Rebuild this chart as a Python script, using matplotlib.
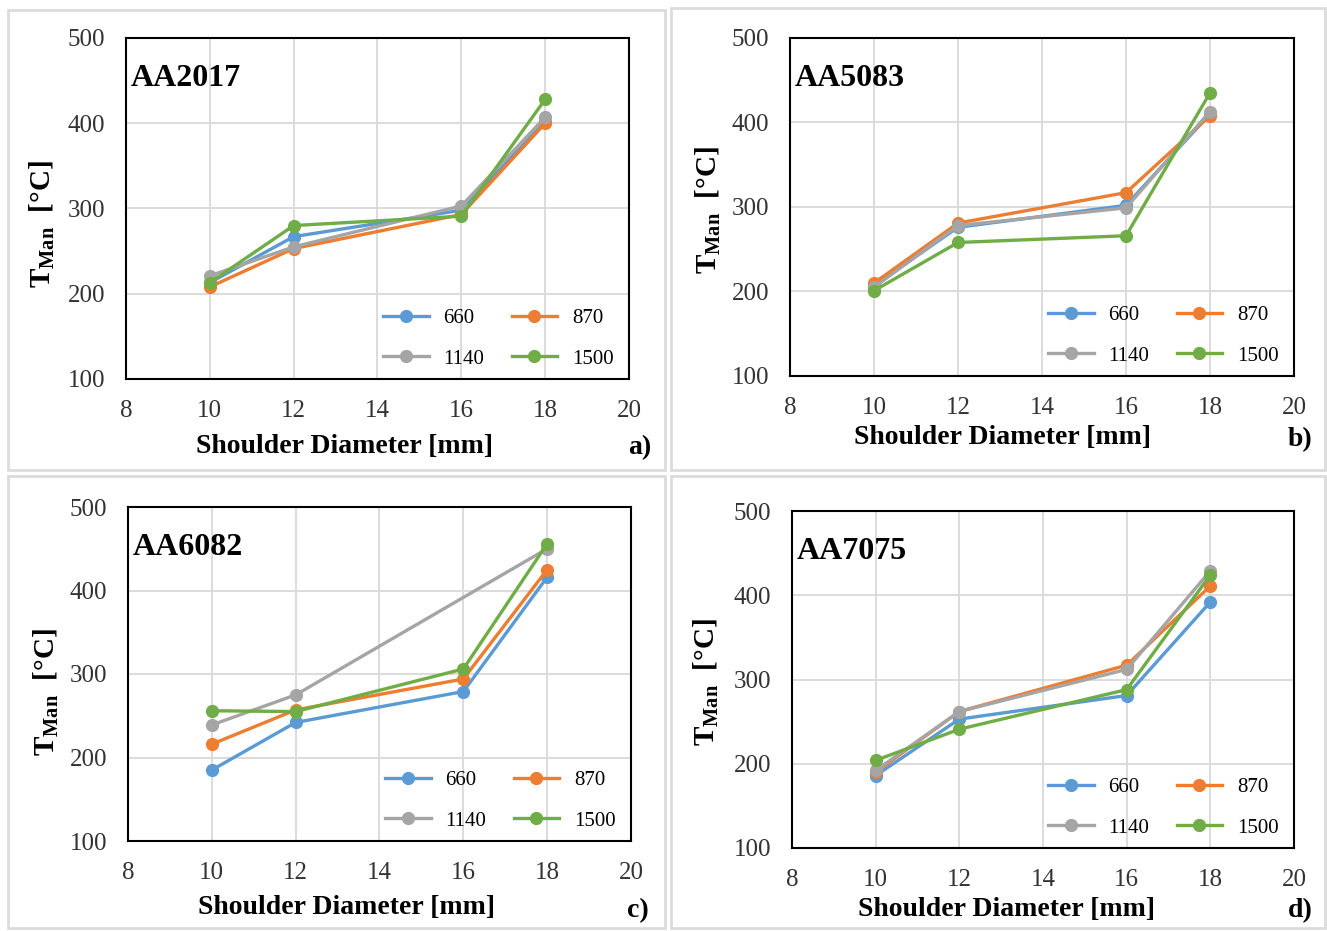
import numpy as np
import matplotlib
matplotlib.use("Agg")
import matplotlib.pyplot as plt
from matplotlib.patches import Rectangle

plt.rcParams['font.family'] = ['Liberation Serif', 'DejaVu Serif']
plt.rcParams['mathtext.fontset'] = 'custom'
plt.rcParams['mathtext.rm'] = 'Liberation Serif'
plt.rcParams['mathtext.bf'] = 'Liberation Serif:bold'

# диаметр заплечика, мм
diam = [10, 12, 16, 18]
speeds = ['660', '870', '1140', '1500']
colors = ['#5B9BD5', '#ED7D31', '#A5A5A5', '#70AD47']

# T_Man, °C  (по строкам: 660, 870, 1140, 1500 об/мин)
t_2017 = [[213, 267, 298, 402],
          [208, 253, 293, 400],
          [221, 255, 303, 407],
          [213, 280, 291, 428]]
t_5083 = [[207, 276, 302, 410],
          [210, 281, 317, 408],
          [205, 278, 299, 413],
          [201, 258, 266, 435]]
t_6082 = [[185, 242, 279, 416],
          [216, 257, 294, 425],
          [239, 275, np.nan, 450],
          [256, 255, 306, 456]]
t_7075 = [[186, 253, 281, 392],
          [190, 262, 317, 411],
          [192, 262, 312, 429],
          [204, 241, 288, 424]]

alloys = ['AA2017', 'AA5083', 'AA6082', 'AA7075']
letters = ['a)', 'b)', 'c)', 'd)']
data = [t_2017, t_5083, t_6082, t_7075]

W, H = 1327, 931
fig = plt.figure(figsize=(W / 100, H / 100), dpi=100)

# рамки вокруг каждой картинки (в пикселях: лево, верх, право, низ)
frames = [(8, 10, 665, 470), (671, 8, 1325, 470),
          (8, 476, 665, 928), (671, 476, 1325, 928)]
boxes = [(126, 38, 629, 379), (790, 38, 1294, 376),
         (128, 507, 631, 841), (792, 511, 1294, 848)]
xlab_pos = [(345, 446), (1002, 437), (347, 907), (1007, 910)]
ylab_pos = [(42, 224), (708, 210), (46, 692), (706, 682)]
let_pos = [(640, 448), (1300, 440), (638, 911), (1300, 911)]


def fx(x):
    return x / W


def fy(y):
    return 1 - y / H


for (l, t, r, b) in frames:
    fig.patches.append(Rectangle((fx(l), fy(b)), fx(r - l), (b - t) / H,
                                 transform=fig.transFigure, fill=False,
                                 edgecolor='#dcdcdc', linewidth=2))

for k in range(4):
    l, t, r, b = boxes[k]
    ax = fig.add_axes([fx(l), fy(b), fx(r - l), (b - t) / H])
    lines = []
    for i in range(4):
        y = np.array(data[k][i], dtype=float)
        x = np.array(diam, dtype=float)
        ok = ~np.isnan(y)
        ln, = ax.plot(x[ok], y[ok], '-o', color=colors[i], lw=2.4, ms=8.5,
                      label=speeds[i], zorder=3)
        lines.append(ln)
    ax.set_xlim(8, 20)
    ax.set_ylim(100, 500)
    ax.set_xticks(np.arange(8, 21, 2))
    ax.set_yticks(np.arange(100, 501, 100))
    ax.grid(True, color='#d9d9d9', lw=1.3, zorder=0)
    ax.tick_params(length=0, labelsize=18, labelcolor='#333333')
    ax.tick_params(axis='x', pad=15)
    ax.tick_params(axis='y', pad=15)
    for s in ax.spines.values():
        s.set_linewidth(1.5)
        s.set_color('black')
    ax.text(0.01, 0.88, alloys[k], transform=ax.transAxes, fontsize=23,
            fontweight='bold', va='center', ha='left')
    # легенда построчно: 660 870 / 1140 1500
    order = [0, 2, 1, 3]
    ax.legend([lines[j] for j in order], [speeds[j] for j in order],
              loc='lower right', ncol=2, frameon=False, fontsize=15,
              handlelength=2.2, handletextpad=0.7, columnspacing=1.3,
              labelspacing=1.0, borderaxespad=0.1,
              bbox_to_anchor=(0.99, 0.0))

    fig.text(fx(xlab_pos[k][0]), fy(xlab_pos[k][1]), 'Shoulder Diameter [mm]',
             fontsize=20, fontweight='bold', ha='center', va='center')
    fig.text(fx(ylab_pos[k][0]), fy(ylab_pos[k][1]),
             r'$\mathbf{T}_{\mathbf{Man}}$  [°C]', fontsize=21,
             fontweight='bold', rotation=90, ha='center', va='center')
    fig.text(fx(let_pos[k][0]), fy(let_pos[k][1]), letters[k],
             fontsize=20, fontweight='bold', ha='center', va='center')

fig.savefig('out.png', dpi=100)
